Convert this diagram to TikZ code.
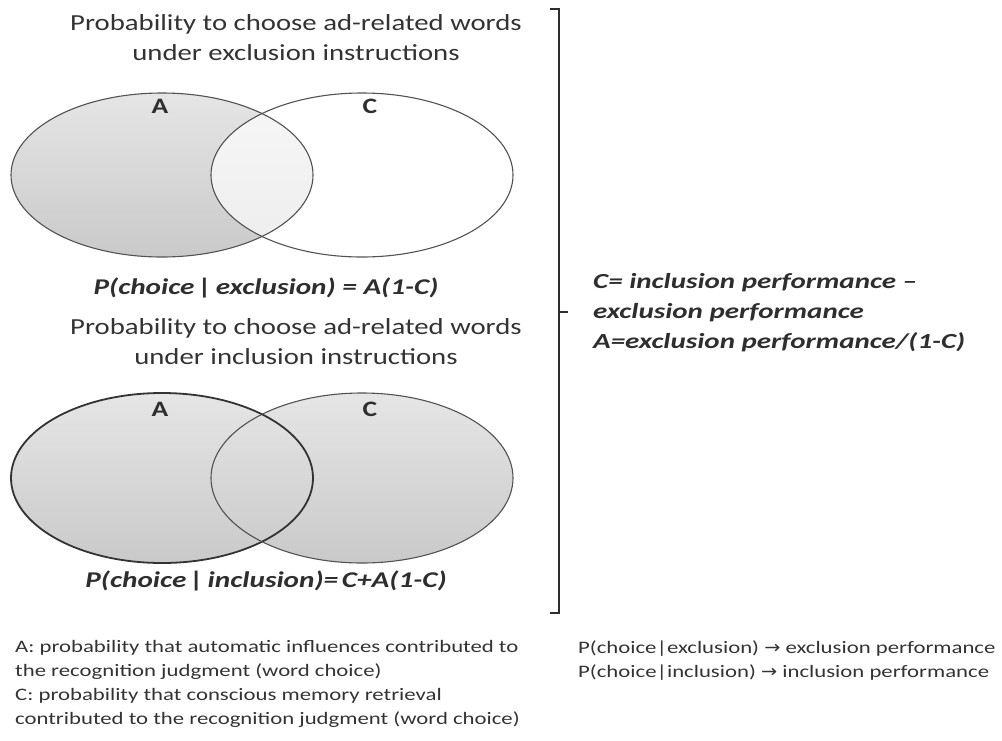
\documentclass[tikz,border=0pt]{standalone}
\usepackage{fontspec}
\setmainfont{Carlito}
\newfontfamily\arrowfont{DejaVu Sans}
\newcommand{\toarrow}{{\arrowfont\addfontfeature{FakeStretch=1.1}\char"2192}}
\newcommand{\widen}[1]{\addfontfeature{FakeStretch=#1}}
\begin{document}
\begin{tikzpicture}[x=1pt,y=-1pt,
  setfill/.style={top color=black!10, bottom color=black!21},
  setline/.style={draw=black!68, line width=1.1pt},
  heading/.style={text=black!80, font=\fontsize{23}{30}\selectfont\widen{1.25}, align=center, inner sep=0pt},
  formula/.style={text=black!82, font=\fontsize{22.5}{26}\selectfont\bfseries\itshape\widen{1.3}, inner sep=0pt},
  setlabel/.style={text=black!82, font=\fontsize{22}{24}\selectfont\bfseries\widen{1.25}, inner sep=0pt},
  notes/.style={text=black!80, font=\fontsize{17.5}{24}\selectfont\widen{1.3}, align=left, inner sep=0pt, anchor=north west},
  bracketline/.style={draw=black!82, line width=1.7pt}]
\useasboundingbox (0,0) rectangle (1002,740);

% ---------- exclusion: A shaded, C white, overlap faded ----------
\path[setfill] (162,175) ellipse [x radius=151, y radius=82];
\begin{scope}
  \clip (162,175) ellipse [x radius=151, y radius=82];
  \fill[white, opacity=0.68] (362,175) ellipse [x radius=151, y radius=82];
\end{scope}
\draw[setline] (162,175) ellipse [x radius=151, y radius=82];
\draw[setline] (362,175) ellipse [x radius=151, y radius=82];

% ---------- inclusion: both shaded ----------
\path[setfill] (162,478) ellipse [x radius=151, y radius=85];
\path[setfill] (362,478) ellipse [x radius=151, y radius=85];
\draw[setline, draw=black!80, line width=1.8pt] (162,478) ellipse [x radius=151, y radius=85];
\draw[setline] (362,478) ellipse [x radius=151, y radius=85];

% ---------- set labels ----------
\node[setlabel] (A1) at (160,106) {A};
\node[setlabel] (C1) at (370,106) {C};
\node[setlabel] (A2) at (160,409) {A};
\node[setlabel] (C2) at (370,409) {C};

% ---------- headings and formulas ----------
\node[heading] (h1) at (296,38) {Probability to choose ad-related words\\under exclusion instructions};
\node[heading] (h2) at (296,342) {Probability to choose ad-related words\\under inclusion instructions};
\node[formula] (f1) at (266,288) {P(choice\,|\,exclusion) = A(1-C)};
\node[formula] (f2) at (266,581) {P(choice\,|\,inclusion)=\,C+A(1-C)};

% ---------- right bracket and estimates ----------
\coordinate (bt) at (550,9);
\coordinate (bb) at (550,613);
\coordinate (bm) at (568,312);
\draw[bracketline] (bt) -- (559,9) -- (559,613) -- (bb);
\draw[bracketline] (559,312) -- (bm);
\node[formula, font=\fontsize{21.5}{30}\selectfont\bfseries\itshape\widen{1.35}, align=left, anchor=west] (est) at (593,313)
  {C= inclusion performance --\\exclusion performance\\A=exclusion performance/(1-C)};

% ---------- notes ----------
\node[notes] (defs) at (15,640)
  {A: probability that automatic influences contributed to\\
   the recognition judgment (word choice)\\
   C: probability that conscious memory retrieval\\
   contributed to the recognition judgment (word choice)};
\node[notes] (maps) at (578,640)
  {P(choice|exclusion) \toarrow\ exclusion performance\\
   P(choice|inclusion) \toarrow\ inclusion performance};
\end{tikzpicture}
\end{document}
